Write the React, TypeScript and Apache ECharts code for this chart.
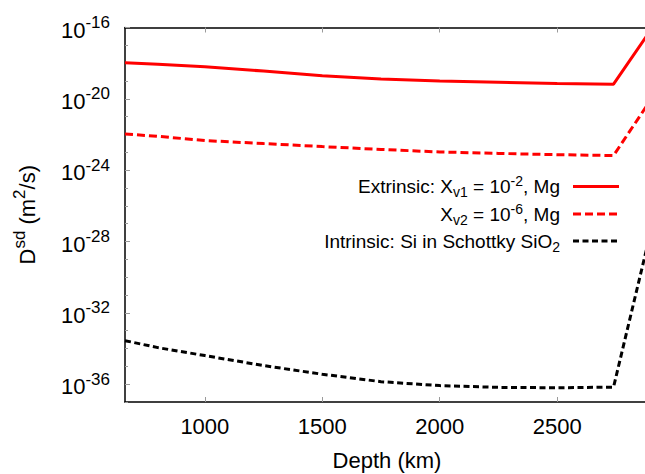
import React, { useEffect, useRef } from "react";
import * as echarts from "echarts";

// Depth (km) at which the curves were read
const depthKm = [660, 800, 1000, 1250, 1500, 1750, 2000, 2250, 2500, 2740, 2891];

// D^sd (m^2/s)
const dExtrinsicXv1 = [1.07e-18, 8.7e-19, 6.3e-19, 3.6e-19, 1.95e-19, 1.29e-19, 1.0e-19, 8.5e-20, 7.2e-20, 6.6e-20, 5.2e-17];
const dExtrinsicXv2 = [1.07e-22, 7.9e-23, 4.6e-23, 3.1e-23, 2.1e-23, 1.45e-23, 1.05e-23, 8.7e-24, 7.4e-24, 6.6e-24, 6.3e-21];
const dIntrinsicSi = [2.75e-34, 1.12e-34, 4.0e-35, 1.1e-35, 3.6e-36, 1.38e-36, 8.3e-37, 6.6e-37, 6.3e-37, 6.8e-37, 1.4e-28];

const xTickValues = [1000, 1500, 2000, 2500];
const yMajorExponents = [-36, -32, -28, -24, -20, -16];
const yMinorExponents = [-37, -35, -34, -33, -31, -30, -29, -27, -26, -25, -23, -22, -21, -19, -18, -17];

const seriesNames = [
  "Extrinsic: Xv1 = 10^-2, Mg",
  "Xv2 = 10^-6, Mg",
  "Intrinsic: Si in Schottky SiO2",
];
const legendRich = [
  "{b|Extrinsic: X}{sub|v1}{b| = 10}{sup|-2}{b|, Mg}",
  "{b|X}{sub|v2}{b| = 10}{sup|-6}{b|, Mg}",
  "{b|Intrinsic: Si in Schottky SiO}{sub|2}",
];

const FONT = "'Liberation Sans', Arial, Helvetica, sans-serif";

export default function App() {
  const ref = useRef<HTMLDivElement>(null);

  useEffect(() => {
    if (!ref.current) return;
    const chart = echarts.init(ref.current, null, { renderer: "svg" });

    const toPairs = (vals: number[]) => depthKm.map((d, i) => [d, Math.log10(vals[i])]);

    const colors = ["#ff0000", "#ff0000", "#000000"];
    const dashes: any[] = ["solid", [8, 4], [6, 3.5]];
    const datasets = [dExtrinsicXv1, dExtrinsicXv2, dIntrinsicSi];

    const frame = { color: "#000", width: 1.5 };
    const tickStyle = { color: "#9a9a9a", width: 1 };

    const legendRows = [186.5, 214, 241];

    const option: any = {
      animation: false,
      backgroundColor: "#fff",
      grid: { left: 125, top: 27.5, right: -4, bottom: 72, containLabel: false, outerBoundsMode: "none" },
      xAxis: [
        {
          type: "value",
          position: "bottom",
          min: 660,
          max: 2891,
          axisLine: { show: true, onZero: false, lineStyle: frame },
          axisTick: { show: true, inside: true, length: 5, customValues: xTickValues, lineStyle: tickStyle },
          axisLabel: {
            customValues: xTickValues,
            formatter: (v: number) => String(v),
            fontSize: 22,
            color: "#000",
            margin: 13,
            fontFamily: FONT,
          },
          splitLine: { show: false },
          name: "Depth (km)",
          nameLocation: "middle",
          nameGap: 47,
          nameMoveOverlap: false,
          nameTextStyle: { fontSize: 22, color: "#000", fontFamily: FONT },
        },
        {
          type: "value",
          position: "top",
          min: 660,
          max: 2891,
          axisLine: { show: true, onZero: false, lineStyle: frame },
          axisTick: { show: true, inside: true, length: 5, customValues: xTickValues, lineStyle: tickStyle },
          axisLabel: { show: false },
          splitLine: { show: false },
        },
      ],
      yAxis: [
        {
          type: "value",
          position: "left",
          min: -37,
          max: -16,
          axisLine: { show: true, onZero: false, lineStyle: frame },
          axisTick: { show: true, inside: true, length: 5, customValues: yMajorExponents, lineStyle: tickStyle },
          axisLabel: {
            customValues: yMajorExponents,
            margin: 15,
            formatter: (v: number) => `{b|10}{s|${v}}`,
            rich: {
              b: { fontSize: 22, lineHeight: 27, verticalAlign: "bottom", color: "#000", fontFamily: FONT },
              s: { fontSize: 17, verticalAlign: "top", color: "#000", fontFamily: FONT },
            },
          },
          splitLine: { show: false },
          name: "{b|D}{s|sd}{b| (m}{s|2}{b|/s)}",
          nameLocation: "middle",
          nameRotate: 90,
          nameGap: 87,
          nameMoveOverlap: false,
          nameTextStyle: {
            rich: {
              b: { fontSize: 22, lineHeight: 27, verticalAlign: "bottom", color: "#000", fontFamily: FONT },
              s: { fontSize: 17, verticalAlign: "top", color: "#000", fontFamily: FONT },
            },
          },
        },
        {
          type: "value",
          position: "left",
          min: -37,
          max: -16,
          axisLine: { show: false },
          axisTick: { show: true, inside: true, length: 3, customValues: yMinorExponents, lineStyle: tickStyle },
          axisLabel: { show: false },
          splitLine: { show: false },
        },
      ],
      series: datasets.map((vals, i) => ({
        name: seriesNames[i],
        type: "line",
        xAxisIndex: 0,
        yAxisIndex: 0,
        data: toPairs(vals),
        showSymbol: false,
        symbol: "none",
        clip: true,
        lineStyle: { color: colors[i], width: 3, type: dashes[i] },
        emphasis: { disabled: true },
      })),
      graphic: legendRows.flatMap((y, i) => [
        {
          type: "text",
          silent: true,
          style: {
            text: legendRich[i],
            x: 560,
            y,
            align: "right",
            textAlign: "right",
            verticalAlign: "middle",
            textVerticalAlign: "middle",
            fill: "#000",
            rich: {
              b: { fontSize: 19, lineHeight: 25, verticalAlign: "middle", fill: "#000", fontFamily: FONT },
              sub: { fontSize: 14, verticalAlign: "bottom", fill: "#000", fontFamily: FONT },
              sup: { fontSize: 14, verticalAlign: "top", fill: "#000", fontFamily: FONT },
            },
          },
        },
        {
          type: "line",
          silent: true,
          shape: { x1: 573, y1: y, x2: 619, y2: y },
          style: {
            stroke: colors[i],
            lineWidth: 3,
            lineDash: Array.isArray(dashes[i]) ? dashes[i] : null,
          },
        },
      ]),
    };

    chart.setOption(option);
    return () => chart.dispose();
  }, []);

  return (
    <div
      ref={ref}
      style={{ position: "fixed", left: 0, top: 0, width: 645, height: 474, background: "#fff" }}
    />
  );
}
